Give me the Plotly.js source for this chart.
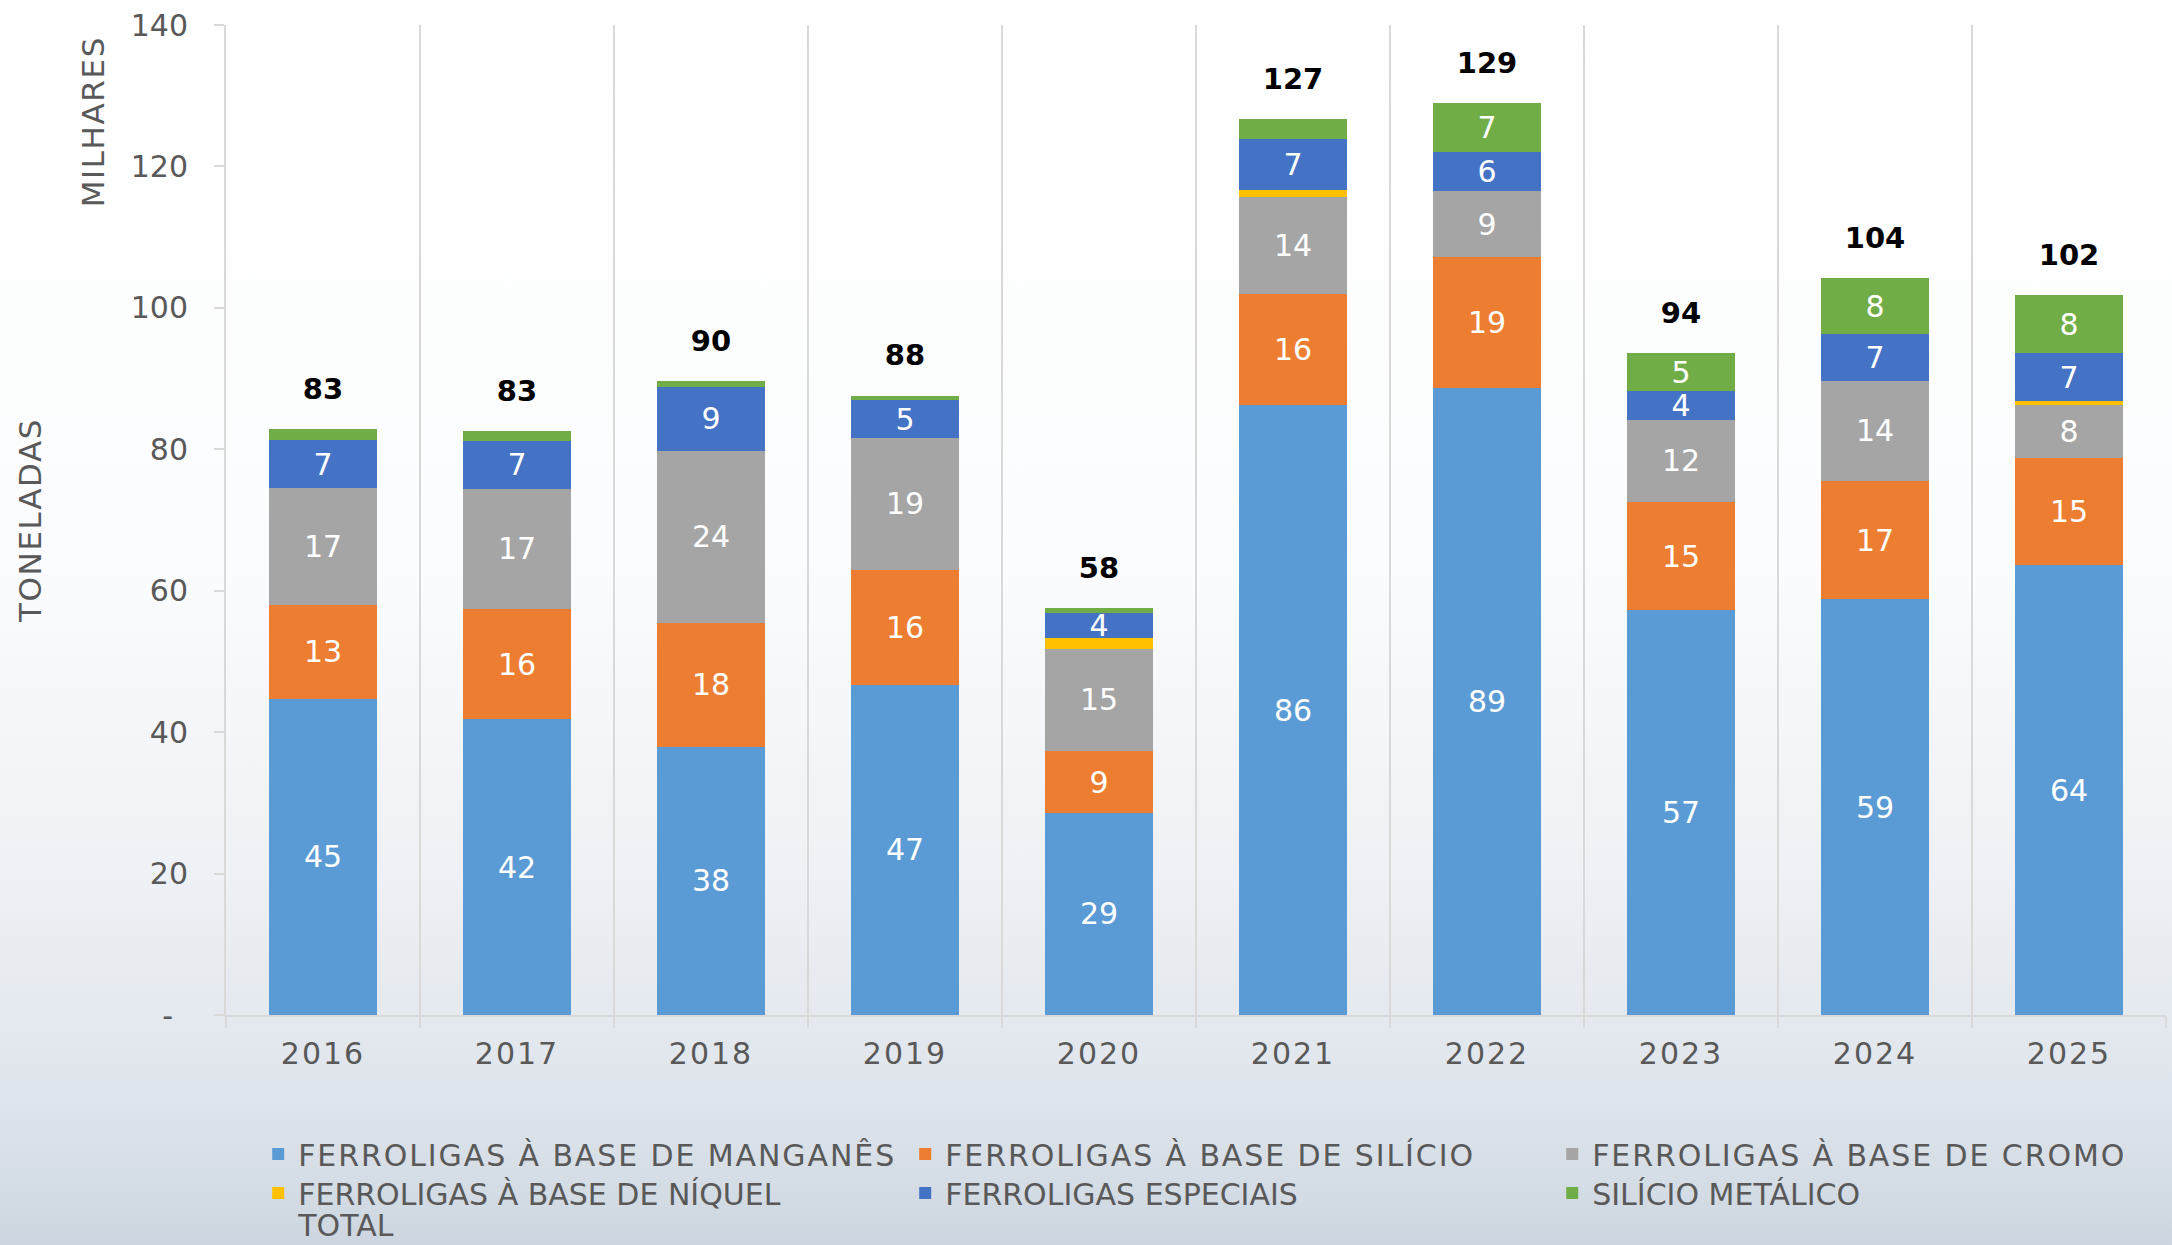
<!DOCTYPE html>
<html>
<head>
<meta charset="utf-8">
<script src="https://cdn.plot.ly/plotly-3.0.1.min.js"></script>
<style>
html,body{margin:0;padding:0;}
body{width:2172px;height:1245px;overflow:hidden;
  background:linear-gradient(to bottom,#ffffff 0%,#fbfcfd 45%,#eef1f5 70%,#dfe5ec 88%,#cdd6e0 100%);}
#chart{width:2172px;height:1245px;}
#chart .xtick text{letter-spacing:2px;}
#chart .legendtext{letter-spacing:1.9px;}
#chart .annotation-text, #chart .ytitle{letter-spacing:1.6px;}
</style>
</head>
<body>
<div id="chart"></div>
<script>
// ---- DATA (milhares de toneladas) ----
const years = ['2016','2017','2018','2019','2020','2021','2022','2023','2024','2025'];
const manganes  = [44.7, 41.8, 37.9, 46.7, 28.6, 86.2, 88.6, 57.3, 58.8, 63.6];
const silicio   = [13.3, 15.6, 17.6, 16.3,  8.7, 15.7, 18.6, 15.2, 16.7, 15.1];
const cromo     = [16.5, 17.0, 24.3, 18.6, 14.5, 13.8,  9.3, 11.7, 14.2,  7.6];
const niquel    = [ 0.0,  0.0,  0.0,  0.0,  1.5,  0.9,  0.0,  0.0,  0.0,  0.5];
const especiais = [ 6.8,  6.8,  9.0,  5.3,  3.6,  7.3,  5.6,  4.0,  6.6,  6.8];
const silMetal  = [ 1.5,  1.4,  0.9,  0.7,  0.6,  2.8,  6.9,  5.4,  7.9,  8.2];

const seriesNames = [
  'FERROLIGAS À BASE DE MANGANÊS',
  'FERROLIGAS À BASE DE SILÍCIO',
  'FERROLIGAS À BASE DE CROMO',
  'FERROLIGAS À BASE DE NÍQUEL',
  'FERROLIGAS ESPECIAIS',
  'SILÍCIO METÁLICO'
];
const totalName = 'TOTAL';
const seriesColors = ['#5b9bd5','#ed7d31','#a5a5a5','#ffc000','#4472c4','#70ad47'];
const seriesLegend = ['legend','legend','legend','legend2','legend2','legend2'];
const seriesValues = [manganes, silicio, cromo, niquel, especiais, silMetal];
const yTickVals = [0,20,40,60,80,100,120,140];
const yTickText = ['-\u2002','20','40','60','80','100','120','140'];

const FONT = 'DejaVu Sans, sans-serif';
const GREY = '#595959';

const totals = years.map((_, i) => seriesValues.reduce((s, arr) => s + arr[i], 0));
const segLabel = v => (v >= 3.5 ? String(Math.round(v)) : '');

const traces = seriesValues.map((vals, k) => ({
  type: 'bar',
  name: seriesNames[k],
  legend: seriesLegend[k],
  x: years,
  y: vals,
  marker: {color: seriesColors[k], line: {width: 0}},
  text: vals.map(segLabel),
  textposition: 'inside',
  insidetextanchor: 'middle',
  constraintext: 'none',
  textangle: 0,
  textfont: {family: FONT, size: 30, color: '#ffffff'},
  hoverinfo: 'skip'
}));

// total labels above the stacks
traces.push({
  type: 'scatter',
  mode: 'markers+text',
  x: years,
  y: totals,
  text: totals.map(t => String(Math.round(t))),
  textposition: 'top center',
  textfont: {family: FONT, size: 29, color: '#000000', weight: 700},
  marker: {size: 35, opacity: 0},
  showlegend: false,
  cliponaxis: false,
  hoverinfo: 'skip'
});
// legend entry "TOTAL"
traces.push({
  type: 'scatter',
  mode: 'lines',
  name: totalName,
  legend: 'legend3',
  x: [years[0]],
  y: [null],
  line: {width: 0, color: 'rgba(0,0,0,0)'},
  hoverinfo: 'skip'
});

function legendRow(yPos) {
  return {
    orientation: 'h',
    x: 0.0166, xanchor: 'left',
    y: yPos, yanchor: 'middle',
    entrywidth: 602, entrywidthmode: 'pixels',
    font: {family: FONT, size: 30, color: GREY},
    bgcolor: 'rgba(0,0,0,0)',
    traceorder: 'normal'
  };
}

const layout = {
  width: 2172, height: 1245,
  paper_bgcolor: 'rgba(0,0,0,0)',
  plot_bgcolor: 'rgba(0,0,0,0)',
  margin: {l: 226, r: 6, t: 25, b: 230, autoexpand: false},
  barmode: 'stack',
  bargap: 0.443,
  font: {family: FONT, color: GREY},
  showlegend: true,
  legend: legendRow(-0.1404),
  legend2: legendRow(-0.1798),
  legend3: legendRow(-0.2115),
  xaxis: {
    type: 'category',
    range: [-0.5, years.length - 0.5],
    tickson: 'boundaries',
    ticks: 'outside', ticklen: 11, tickwidth: 2, tickcolor: '#d9d9d9',
    showgrid: true, gridcolor: '#d9d9d9', gridwidth: 2,
    showline: true, linecolor: '#d9d9d9', linewidth: 2,
    tickfont: {family: FONT, size: 30, color: GREY},
    ticklabelstandoff: 11,
    fixedrange: true
  },
  yaxis: {
    range: [0, 140],
    tickvals: yTickVals, ticktext: yTickText,
    ticks: 'outside', ticklen: 10, tickwidth: 2, tickcolor: '#d9d9d9',
    showgrid: false, zeroline: false,
    showline: true, linecolor: '#d9d9d9', linewidth: 2,
    tickfont: {family: FONT, size: 30, color: GREY},
    ticklabelstandoff: 20,
    title: {text: 'TONELADAS', font: {family: FONT, size: 31, color: GREY}, standoff: 80},
    fixedrange: true
  },
  annotations: [{
    text: 'MILHARES',
    xref: 'paper', yref: 'paper',
    x: -0.0686, y: 0.902,
    xanchor: 'center', yanchor: 'middle',
    textangle: -90,
    showarrow: false,
    font: {family: FONT, size: 31, color: GREY}
  }]
};

Plotly.newPlot('chart', traces, layout, {displayModeBar: false, staticPlot: true});
</script>
</body>
</html>
